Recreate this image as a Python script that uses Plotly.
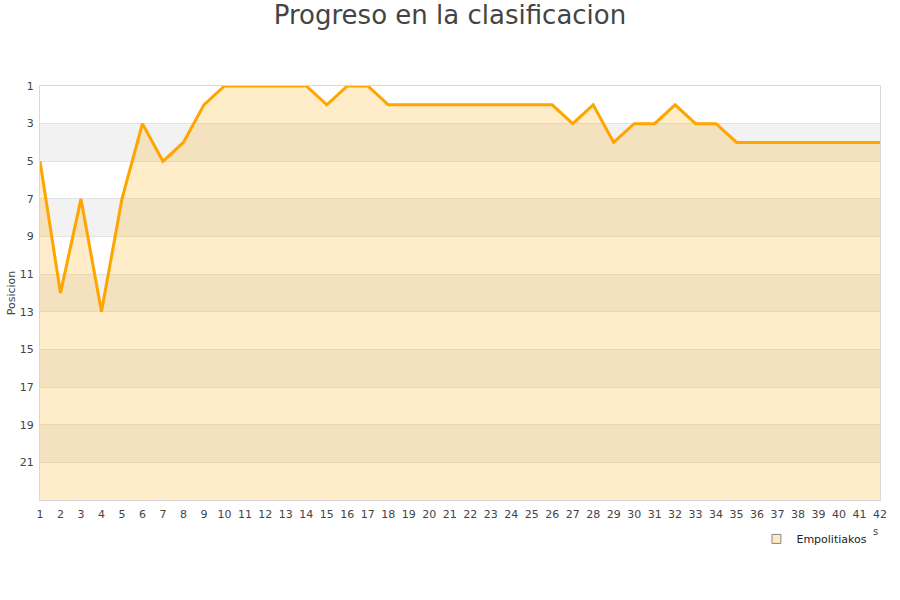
import plotly.graph_objects as go

jornadas = list(range(1, 43))
posicion = [5, 12, 7, 13, 7, 3, 5, 4, 2, 1,
            1, 1, 1, 1, 2, 1, 1, 2, 2, 2,
            2, 2, 2, 2, 2, 2, 3, 2, 4, 3,
            3, 2, 3, 3, 4, 4, 4, 4, 4, 4,
            4, 4]
team = "Empolitiakos"
y_ticks = list(range(1, 22, 2))
band_starts = [3, 7, 11, 15, 19]
y_bottom = 23

fig = go.Figure()

# baseline for fill (bottom of axis)
fig.add_trace(go.Scatter(x=jornadas, y=[y_bottom] * len(jornadas), mode="lines",
                         line=dict(width=0), showlegend=False, hoverinfo="skip"))
fig.add_trace(go.Scatter(x=jornadas, y=posicion, mode="lines", fill="tonexty",
                         fillcolor="rgba(255,165,0,0.21)",
                         line=dict(color="#ffa500", width=3), showlegend=False, name=team))
# legend-only entry
fig.add_trace(go.Scatter(x=[None], y=[None], mode="markers", name=team,
                         marker=dict(symbol="square", size=9, color="#fde9c4",
                                     line=dict(color="#888", width=1))))

shapes = []
for b in band_starts:
    shapes.append(dict(type="rect", xref="paper", yref="y", x0=0, x1=1, y0=b, y1=b + 2,
                       fillcolor="#f2f2f2", line=dict(width=0), layer="below"))

fig.update_layout(
    width=900, height=600,
    paper_bgcolor="white", plot_bgcolor="white",
    margin=dict(l=40, r=20, t=86, b=100, autoexpand=False),
    title=dict(text="Progreso en la clasificacion", x=0.5, xanchor="center",
               yref="container", y=1 - 15 / 600, yanchor="middle",
               font=dict(family="DejaVu Sans, Verdana, sans-serif", size=26, color="#444")),
    font=dict(family="DejaVu Sans, Verdana, sans-serif", size=11, color="#444"),
    shapes=shapes,
    showlegend=True,
    legend=dict(orientation="h", x=0.991, xanchor="right", y=-0.059, yanchor="top",
                font=dict(size=11, color="#222"), bgcolor="rgba(0,0,0,0)"),
    xaxis=dict(range=[1, 42], tickmode="array", tickvals=jornadas,
               ticktext=[str(j) for j in jornadas], automargin=False,
               showgrid=False, zeroline=False, showline=True, linecolor="#d9d9d9",
               mirror=True, ticks="", ticklabelstandoff=4,
               tickfont=dict(size=11, color="#444")),
    yaxis=dict(range=[y_bottom, 1], tickmode="array", tickvals=y_ticks, automargin=False,
               showgrid=True, gridcolor="#e3e3e3", zeroline=False,
               showline=True, linecolor="#d9d9d9", mirror=True, ticks="",
               ticklabelstandoff=3,
               title=dict(text="Posicion", font=dict(size=11, color="#444"), standoff=1),
               tickfont=dict(size=11, color="#444")),
)

fig.add_annotation(xref="paper", yref="paper", x=(875 - 40) / 840, y=1 - (531 - 86) / 414,
                   xanchor="center", yanchor="middle",
                   text="s", showarrow=False, font=dict(size=10, color="#444"))

fig.write_html("out.html", config={"displayModeBar": False},
               post_script="document.body.style.margin='0';")
